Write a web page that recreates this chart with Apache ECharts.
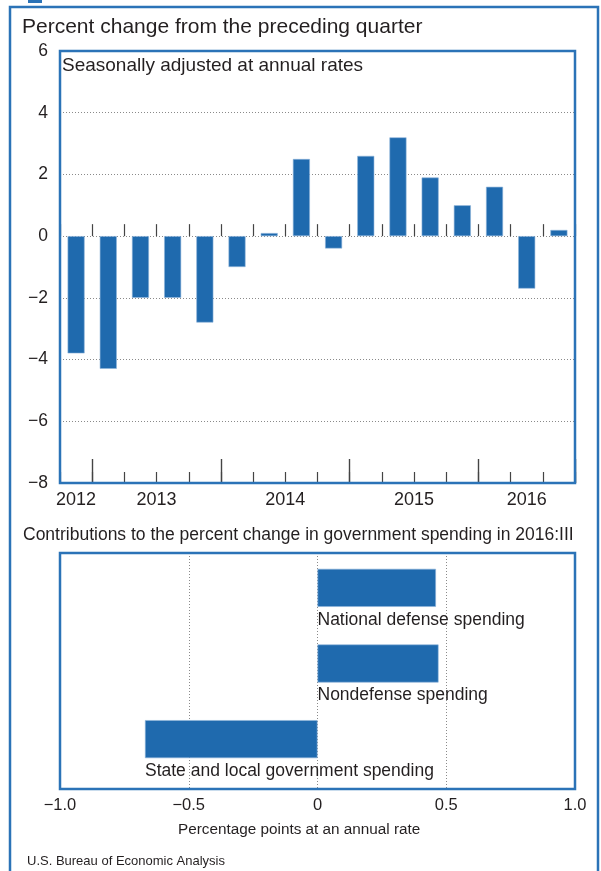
<!DOCTYPE html>
<html><head><meta charset="utf-8">
<script src="https://cdn.jsdelivr.net/npm/echarts@6/dist/echarts.min.js"></script>
<style>html,body{margin:0;padding:0;background:#fff}#c{width:601px;height:871px}</style>
</head><body><div id="c"></div>
<script>
// ---- data ----
const quarters = ['2012:IV','2013:I','2013:II','2013:III','2013:IV','2014:I','2014:II','2014:III','2014:IV','2015:I','2015:II','2015:III','2015:IV','2016:I','2016:II','2016:III'];
const pctChange = [-3.8,-4.3,-2.0,-2.0,-2.8,-1.0,0.1,2.5,-0.4,2.6,3.2,1.9,1.0,1.6,-1.7,0.2];
const yTicks = [-8,-6,-4,-2,0,2,4,6];
const components = ['National defense spending','Nondefense spending','State and local government spending'];
const contributions = [0.46, 0.47, -0.67];
const xTicks = [-1.0,-0.5,0,0.5,1.0];

// ---- helpers ----
const FONT = '"Liberation Sans", Arial, Helvetica, sans-serif';
const TXT = '#231f20';
const BAR = '#1f6aae';
const FRAME = '#2b73b7';
const GRIDC = '#8a8a8a';
const minus = s => String(s).replace('-', '\u2212');
const yearIdx = {};
quarters.forEach((q, i) => { const y = q.split(':')[0]; (yearIdx[y] = yearIdx[y] || []).push(i); });
const yearAt = {};
Object.keys(yearIdx).forEach(y => { const a = yearIdx[y]; yearAt[(a.reduce((s, v) => s + v, 0) / a.length).toFixed(1)] = y; });
const isYearStart = i => i > 0 && quarters[i] && quarters[i].split(':')[1] === 'I';

const chart = echarts.init(document.getElementById('c'), null, {renderer: 'canvas'});
const tickAxis = (len, filter, onZero) => ({
  type: 'category', gridIndex: 0, data: quarters, position: 'bottom', boundaryGap: true,
  axisLine: {show: false, onZero: onZero},
  axisTick: {show: true, inside: true, length: len, interval: filter, lineStyle: {color: '#444', width: 1.2}},
  axisLabel: {show: false}, splitLine: {show: false}
});

const option = {
  animation: false,
  backgroundColor: '#fff',
  grid: [
    {left: 60, right: 26, top: 51, height: 432},
    {left: 60, right: 26, top: 553, height: 236},
    {left: 60, right: 26, top: 550, height: 227}
  ],
  xAxis: [
    tickAxis(11, () => true, false),
    tickAxis(24, (i) => isYearStart(i), false),
    tickAxis(12, () => true, true),
    tickAxis(24, (i) => isYearStart(i), true),
    {
      type: 'value', gridIndex: 0, min: -0.5, max: quarters.length - 0.5, interval: 0.5, position: 'bottom',
      axisLine: {show: false, onZero: false}, axisTick: {show: false}, splitLine: {show: false},
      axisLabel: {show: true, margin: 8, fontSize: 18, color: TXT, fontFamily: FONT,
        showMinLabel: true, showMaxLabel: true,
        formatter: v => yearAt[(+v).toFixed(1)] || ''}
    },
    {
      type: 'value', gridIndex: 1, min: xTicks[0], max: xTicks[xTicks.length - 1], interval: xTicks[1] - xTicks[0],
      axisLine: {show: false, onZero: false}, axisTick: {show: false},
      splitLine: {show: true, lineStyle: {color: GRIDC, type: [1, 2], width: 1}},
      axisLabel: {margin: 8, fontSize: 16.5, color: TXT, fontFamily: FONT,
        formatter: v => v === 0 ? '0' : minus((+v).toFixed(1))}
    },
    {type: 'value', gridIndex: 2, min: xTicks[0], max: xTicks[xTicks.length - 1], show: false}
  ],
  yAxis: [
    {
      type: 'value', gridIndex: 0, min: yTicks[0], max: yTicks[yTicks.length - 1], interval: yTicks[1] - yTicks[0],
      axisLine: {show: false}, axisTick: {show: false},
      splitLine: {show: true, lineStyle: {color: GRIDC, type: [1, 2], width: 1}},
      axisLabel: {margin: 12, fontSize: 17.5, color: TXT, fontFamily: FONT, formatter: v => minus(v)}
    },
    {type: 'value', gridIndex: 1, min: 0, max: 1, show: false},
    {type: 'category', gridIndex: 2, data: components, inverse: true, show: false}
  ],
  series: [
    {
      type: 'bar', xAxisIndex: 0, yAxisIndex: 0, data: pctChange, barWidth: 17,
      itemStyle: {color: BAR, borderColor: '#8db4da', borderWidth: 0.6}
    },
    {
      type: 'bar', xAxisIndex: 6, yAxisIndex: 2, data: contributions, barWidth: 38,
      itemStyle: {color: BAR, borderColor: '#8db4da', borderWidth: 0.6},
      label: {show: true, position: [0, '100%'], offset: [0, 4], align: 'left', verticalAlign: 'top',
        formatter: p => p.name, fontSize: 17.5, color: TXT, fontFamily: FONT}
    }
  ],
  graphic: [
    {type: 'rect', z: 100, shape: {x: 10, y: 7, width: 588, height: 900}, style: {fill: 'none', stroke: FRAME, lineWidth: 2.5}},
    {type: 'rect', z: 100, shape: {x: 28, y: -2, width: 14, height: 5}, style: {fill: FRAME}},
    {type: 'rect', z: 100, shape: {x: 60, y: 51, width: 515, height: 432}, style: {fill: 'none', stroke: FRAME, lineWidth: 2.5}},
    {type: 'rect', z: 100, shape: {x: 60, y: 553, width: 515, height: 236}, style: {fill: 'none', stroke: FRAME, lineWidth: 2.5}},
    {type: 'text', z: 100, x: 22, y: 27, style: {text: 'Percent change from the preceding quarter', font: '21px ' + FONT, fill: TXT, verticalAlign: 'middle', textVerticalAlign: 'middle'}},
    {type: 'text', z: 100, x: 62, y: 66, style: {text: 'Seasonally adjusted at annual rates', font: '19px ' + FONT, fill: TXT, verticalAlign: 'middle', textVerticalAlign: 'middle'}},
    {type: 'text', z: 100, x: 23, y: 535, style: {text: 'Contributions to the percent change in government spending in 2016:III', font: '17.5px ' + FONT, fill: TXT, verticalAlign: 'middle', textVerticalAlign: 'middle'}},
    {type: 'text', z: 100, x: 178, y: 830, style: {text: 'Percentage points at an annual rate', font: '15.3px ' + FONT, fill: TXT, verticalAlign: 'middle', textVerticalAlign: 'middle'}},
    {type: 'text', z: 100, x: 27, y: 861, style: {text: 'U.S. Bureau of Economic Analysis', font: '13px ' + FONT, fill: TXT, verticalAlign: 'middle', textVerticalAlign: 'middle'}}
  ]
};
chart.setOption(option);
</script>
</body></html>
